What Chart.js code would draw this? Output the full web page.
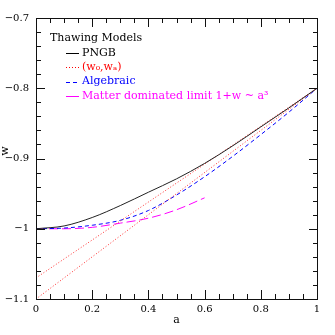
<!DOCTYPE html>
<html>
<head>
<meta charset="utf-8">
<script src="https://cdn.jsdelivr.net/npm/chart.js@4.4.1/dist/chart.umd.min.js"></script>
<style>
  html, body { margin: 0; padding: 0; background: #fff; }
  #wrap { width: 335px; height: 335px; }
</style>
</head>
<body>
<div id="wrap"><canvas id="chart" width="335" height="335"></canvas></div>
<script>
// scale factor a
const aGrid = [0, 0.1, 0.2, 0.3, 0.4, 0.5, 0.6, 0.7, 0.8, 0.9, 1.0];
const pngb = [-1.0, -0.996, -0.984, -0.967, -0.948, -0.929, -0.907, -0.882, -0.855, -0.828, -0.8];
const algebraic = [-1.0, -0.999, -0.995, -0.988, -0.974, -0.952, -0.926, -0.897, -0.866, -0.834, -0.8];

const aMatter = [0, 0.1, 0.2, 0.3, 0.4, 0.5, 0.6];
const matter = [-1.0, -1.0, -0.998, -0.992, -0.985, -0.973, -0.956];

// two (w0,wa) linear fits
const aLine = [0, 1];
const w0waHigh = [-1.07, -0.8];
const w0waLow = [-1.1, -0.8];

const xTicks = [0, 0.2, 0.4, 0.6, 0.8, 1];
const yTicks = [-1.1, -1.0, -0.9, -0.8, -0.7];
const xMinorTicks = [0, 0.05, 0.1, 0.15, 0.2, 0.25, 0.3, 0.35, 0.4, 0.45, 0.5,
  0.55, 0.6, 0.65, 0.7, 0.75, 0.8, 0.85, 0.9, 0.95, 1];
const yMinorTicks = [-1.1, -1.08, -1.06, -1.04, -1.02, -1.0, -0.98, -0.96, -0.94, -0.92, -0.9,
  -0.88, -0.86, -0.84, -0.82, -0.8, -0.78, -0.76, -0.74, -0.72, -0.7];

const legendTitle = 'Thawing Models';
const legendItems = [
  { text: 'PNGB', color: '#000000', dash: [] },
  { text: '(w\u2080,w\u2090)', color: '#ff0000', dash: [1, 2] },
  { text: 'Algebraic', color: '#0000ff', dash: [4, 3] },
  { text: 'Matter dominated limit 1+w ~ a\u00b3', color: '#ff00ff', dash: [] },
];

const pts = (xs, ys) => xs.map((x, i) => ({ x: x, y: ys[i] }));
const serif = '"DejaVu Serif", "Liberation Serif", serif';

const fmt = (v) => {
  const r = Math.round(v * 10) / 10;
  let s = Number.isInteger(r) ? String(Math.abs(r)) : Math.abs(r).toFixed(1);
  if (r === 0) s = '0';
  return (r < 0 ? '\u2212' : '') + s;
};

// frame with inward ticks on all four sides
const drawFrame = (chart) => {
  const ctx = chart.ctx;
  const area = chart.chartArea;
  const sx = chart.scales.x;
  const sy = chart.scales.y;
  const left = Math.round(area.left);
  const right = Math.round(area.right);
  const top = Math.round(area.top);
  const bottom = Math.round(area.bottom);
  ctx.save();
  ctx.setLineDash([]);
  ctx.fillStyle = '#111';
  ctx.fillRect(left, top, right - left + 1, 1);
  ctx.fillRect(left, bottom, right - left + 1, 1);
  ctx.fillRect(left, top, 1, bottom - top + 1);
  ctx.fillRect(right, top, 1, bottom - top + 1);
  xMinorTicks.forEach((v, i) => {
    const px = Math.round(sx.getPixelForValue(v));
    const len = i % 4 === 0 ? 9 : 5;
    ctx.fillRect(px, bottom - len, 1, len);
    ctx.fillRect(px, top, 1, len);
  });
  yMinorTicks.forEach((v, i) => {
    const py = Math.round(sy.getPixelForValue(v));
    const len = i % 5 === 0 ? 9 : 5;
    ctx.fillRect(left, py, len, 1);
    ctx.fillRect(right - len + 1, py, len, 1);
  });
  ctx.restore();
};

const framePlugin = {
  id: 'frame',
  afterDatasetsDraw(chart) {
    drawFrame(chart);
  },
  afterDraw(chart) {
    const ctx = chart.ctx;
    const area = chart.chartArea;
    drawFrame(chart);
    ctx.save();

    // axis titles
    ctx.fillStyle = '#000';
    ctx.font = '11px ' + serif;
    ctx.textAlign = 'center';
    ctx.textBaseline = 'middle';
    ctx.fillText('a', (area.left + area.right) / 2, 320);
    ctx.save();
    ctx.translate(5, 151);
    ctx.rotate(-Math.PI / 2);
    ctx.fillText('w', 0, 0);
    ctx.restore();

    // legend
    ctx.lineWidth = 1;
    ctx.textAlign = 'left';
    ctx.font = '11px ' + serif;
    ctx.fillText(legendTitle, 50, 38);
    legendItems.forEach((item, i) => {
      const y = 53 + i * 14.3;
      ctx.strokeStyle = item.color;
      ctx.setLineDash(item.dash);
      ctx.beginPath();
      ctx.moveTo(66, Math.round(y) + 0.5);
      ctx.lineTo(79, Math.round(y) + 0.5);
      ctx.stroke();
      ctx.setLineDash([]);
      ctx.fillStyle = item.color;
      ctx.fillText(item.text, 82, y);
    });
    ctx.restore();
  },
};

const lineSet = (label, data, color, dash) => ({
  label: label,
  data: data,
  showLine: true,
  borderColor: color,
  borderWidth: 1,
  borderDash: dash,
  pointRadius: 0,
  fill: false,
  cubicInterpolationMode: 'monotone',
});

new Chart(document.getElementById('chart'), {
  type: 'scatter',
  data: {
    datasets: [
      lineSet('PNGB', pts(aGrid, pngb), '#222222', []),
      lineSet('(w0,wa) high', pts(aLine, w0waHigh), '#ff3030', [1, 2]),
      lineSet('(w0,wa) low', pts(aLine, w0waLow), '#ff3030', [1, 2]),
      lineSet('Algebraic', pts(aGrid, algebraic), '#0000ff', [4, 3]),
      lineSet('Matter', pts(aMatter, matter), '#ff00ff', [9, 4]),
    ],
  },
  options: {
    responsive: false,
    animation: false,
    layout: { padding: { top: 18, right: 18, left: 0, bottom: 0 } },
    plugins: {
      legend: { display: false },
      tooltip: { enabled: false },
    },
    scales: {
      x: {
        type: 'linear',
        min: 0,
        max: 1,
        afterFit: (s) => { s.height = 36; },
        afterBuildTicks: (s) => { s.ticks = xTicks.map((v) => ({ value: v })); },
        grid: { display: false, drawTicks: false },
        border: { display: false },
        ticks: {
          padding: 4,
          color: '#000',
          maxRotation: 0,
          font: { family: serif, size: 10 },
          callback: (v) => fmt(v),
        },
      },
      y: {
        type: 'linear',
        min: -1.1,
        max: -0.7,
        afterFit: (s) => { s.width = 36; },
        afterBuildTicks: (s) => { s.ticks = yTicks.map((v) => ({ value: v })); },
        grid: { display: false, drawTicks: false },
        border: { display: false },
        ticks: {
          padding: 7,
          color: '#000',
          font: { family: serif, size: 10 },
          callback: (v) => fmt(v),
        },
      },
    },
  },
  plugins: [framePlugin],
});
</script>
</body>
</html>
